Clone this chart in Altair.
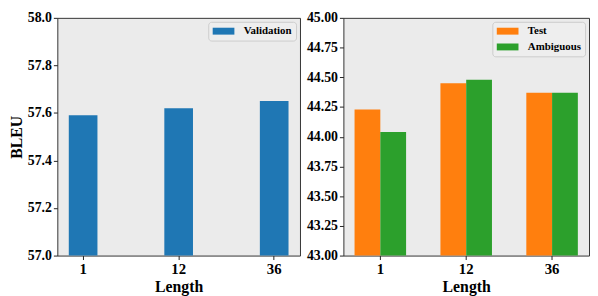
import altair as alt
import pandas as pd

# ---- data ----
lengths = ["1", "12", "36"]
validation = [57.59, 57.62, 57.65]
test = [44.23, 44.45, 44.37]
ambiguous = [44.04, 44.48, 44.37]

left_ticks = [57.0, 57.2, 57.4, 57.6, 57.8, 58.0]
right_ticks = [43.0, 43.25, 43.5, 43.75, 44.0, 44.25, 44.5, 44.75, 45.0]

FONT = "Liberation Serif"
BG = "#ebebeb"

left_df = pd.DataFrame({"Length": lengths, "BLEU": validation,
                        "series": ["Validation"] * len(lengths)})
right_df = pd.DataFrame({"Length": lengths * 2, "BLEU": test + ambiguous,
                         "series": ["Test"] * len(lengths) + ["Ambiguous"] * len(lengths)})


def make_legend():
    return alt.Legend(
        title=None, orient="top-right", offset=4,
        fillColor="#eeeeee", strokeColor="#cccccc", cornerRadius=3, padding=4,
        symbolType="M-2.2,-0.7H2.2V0.7H-2.2Z", symbolSize=100, symbolStrokeWidth=0,
        symbolOpacity=1, symbolOffset=6,
        labelFont=FONT, labelFontSize=11, labelFontWeight="bold",
        labelColor="black", labelOffset=15, rowPadding=4,
    )


def x_axis():
    return alt.Axis(title="Length", labelAngle=0, domain=False, ticks=True,
                    tickSize=4, tickColor="#222", labelFont=FONT, labelFontSize=15,
                    labelFontWeight="bold", labelColor="black", labelPadding=2,
                    titleFont=FONT, titleFontSize=16, titleFontWeight="bold",
                    titleColor="black", titlePadding=2, grid=False)


def y_axis(title, values, fmt):
    kw = dict(values=values, format=fmt, domain=False, ticks=True, tickSize=4,
              tickColor="#222", labelFont=FONT, labelFontSize=14,
              labelFontWeight="bold", labelColor="black", labelPadding=2,
              grid=False)
    if title:
        return alt.Axis(title=title, titleFont=FONT, titleFontSize=16,
                        titleFontWeight="bold", titleColor="black",
                        titlePadding=3, **kw)
    return alt.Axis(title=None, **kw)


left = alt.Chart(left_df).mark_bar().encode(
    x=alt.X("Length:N", sort=lengths, axis=x_axis(),
            scale=alt.Scale(paddingInner=0.7, paddingOuter=0.12)),
    y=alt.Y("BLEU:Q", axis=y_axis("BLEU", left_ticks, ".1f"),
            scale=alt.Scale(domain=[57.0, 58.0], zero=False, nice=False)),
    y2=alt.Y2(datum=57.0),
    color=alt.Color("series:N", legend=make_legend(),
                    scale=alt.Scale(domain=["Validation"], range=["#1f77b4"])),
).properties(width=246, height=241)

right = alt.Chart(right_df).mark_bar().encode(
    x=alt.X("Length:N", sort=lengths, axis=x_axis(),
            scale=alt.Scale(paddingInner=0.4, paddingOuter=0.13)),
    xOffset=alt.XOffset("series:N", sort=["Test", "Ambiguous"],
                        scale=alt.Scale(paddingInner=0, paddingOuter=0)),
    y=alt.Y("BLEU:Q", axis=y_axis(None, right_ticks, ".2f"),
            scale=alt.Scale(domain=[43.0, 45.0], zero=False, nice=False)),
    y2=alt.Y2(datum=43.0),
    color=alt.Color("series:N", legend=make_legend(), sort=["Test", "Ambiguous"],
                    scale=alt.Scale(domain=["Test", "Ambiguous"],
                                    range=["#ff7f0e", "#2ca02c"])),
).properties(width=249, height=241)

chart = alt.hconcat(left, right, spacing=5).resolve_scale(
    color="independent", x="independent", y="independent"
).properties(
    padding={"left": 0, "top": 0, "right": 0, "bottom": 0},
    background="white",
).configure(
    font=FONT
).configure_axis(
    labelFont=FONT, titleFont=FONT, labelFontWeight="bold", titleFontWeight="bold"
).configure_legend(
    labelFont=FONT, labelFontWeight="bold"
).configure_view(
    fill=BG, stroke="#333333", strokeWidth=1
)

chart.save("out.html", embed_options={"renderer": "svg", "actions": False})
